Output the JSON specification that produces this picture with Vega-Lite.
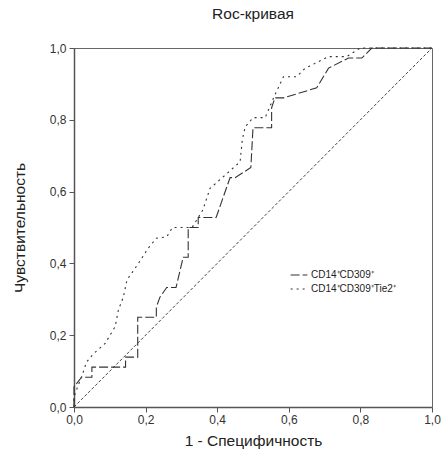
{
  "$schema": "https://vega.github.io/schema/vega-lite/v6.json",
  "width": 358,
  "height": 359,
  "autosize": "none",
  "padding": {"left": 74, "top": 48, "right": 9, "bottom": 43},
  "title": {"text": "Roc-кривая", "fontSize": 15.5, "fontWeight": "normal", "color": "#222", "font": "Liberation Sans", "offset": 20},
  "config": {
    "font": "Liberation Sans",
    "view": {"stroke": "#666", "strokeWidth": 1},
    "axis": {"grid": false, "domainColor": "#555", "domainWidth": 1.5, "tickColor": "#555", "tickSize": 5, "labelFontSize": 12, "labelColor": "#333", "titleFontSize": 15.5, "titleFontWeight": "normal", "titleColor": "#222"}
  },
  "datasets": {
    "roc": [
      {"s": "CD14⁺CD309⁺", "o": 0, "x": 0, "y": 0},
      {"s": "CD14⁺CD309⁺", "o": 1, "x": 0, "y": 0.056},
      {"s": "CD14⁺CD309⁺", "o": 2, "x": 0.021, "y": 0.083},
      {"s": "CD14⁺CD309⁺", "o": 3, "x": 0.05, "y": 0.083},
      {"s": "CD14⁺CD309⁺", "o": 4, "x": 0.05, "y": 0.111},
      {"s": "CD14⁺CD309⁺", "o": 5, "x": 0.144, "y": 0.111},
      {"s": "CD14⁺CD309⁺", "o": 6, "x": 0.144, "y": 0.139},
      {"s": "CD14⁺CD309⁺", "o": 7, "x": 0.178, "y": 0.139},
      {"s": "CD14⁺CD309⁺", "o": 8, "x": 0.178, "y": 0.25},
      {"s": "CD14⁺CD309⁺", "o": 9, "x": 0.23, "y": 0.25},
      {"s": "CD14⁺CD309⁺", "o": 10, "x": 0.23, "y": 0.278},
      {"s": "CD14⁺CD309⁺", "o": 11, "x": 0.24, "y": 0.306},
      {"s": "CD14⁺CD309⁺", "o": 12, "x": 0.259, "y": 0.333},
      {"s": "CD14⁺CD309⁺", "o": 13, "x": 0.285, "y": 0.333},
      {"s": "CD14⁺CD309⁺", "o": 14, "x": 0.305, "y": 0.417},
      {"s": "CD14⁺CD309⁺", "o": 15, "x": 0.319, "y": 0.417},
      {"s": "CD14⁺CD309⁺", "o": 16, "x": 0.319, "y": 0.5},
      {"s": "CD14⁺CD309⁺", "o": 17, "x": 0.347, "y": 0.5},
      {"s": "CD14⁺CD309⁺", "o": 18, "x": 0.347, "y": 0.528},
      {"s": "CD14⁺CD309⁺", "o": 19, "x": 0.397, "y": 0.528},
      {"s": "CD14⁺CD309⁺", "o": 20, "x": 0.436, "y": 0.639},
      {"s": "CD14⁺CD309⁺", "o": 21, "x": 0.45, "y": 0.639},
      {"s": "CD14⁺CD309⁺", "o": 22, "x": 0.494, "y": 0.667},
      {"s": "CD14⁺CD309⁺", "o": 23, "x": 0.5, "y": 0.778},
      {"s": "CD14⁺CD309⁺", "o": 24, "x": 0.552, "y": 0.778},
      {"s": "CD14⁺CD309⁺", "o": 25, "x": 0.552, "y": 0.833},
      {"s": "CD14⁺CD309⁺", "o": 26, "x": 0.561, "y": 0.861},
      {"s": "CD14⁺CD309⁺", "o": 27, "x": 0.585, "y": 0.861},
      {"s": "CD14⁺CD309⁺", "o": 28, "x": 0.678, "y": 0.889},
      {"s": "CD14⁺CD309⁺", "o": 29, "x": 0.711, "y": 0.944},
      {"s": "CD14⁺CD309⁺", "o": 30, "x": 0.767, "y": 0.972},
      {"s": "CD14⁺CD309⁺", "o": 31, "x": 0.804, "y": 0.972},
      {"s": "CD14⁺CD309⁺", "o": 32, "x": 0.832, "y": 1},
      {"s": "CD14⁺CD309⁺", "o": 33, "x": 1, "y": 1},
      {"s": "CD14⁺CD309⁺Tie2⁺", "o": 0, "x": 0, "y": 0},
      {"s": "CD14⁺CD309⁺Tie2⁺", "o": 1, "x": 0, "y": 0.028},
      {"s": "CD14⁺CD309⁺Tie2⁺", "o": 2, "x": 0.01, "y": 0.056},
      {"s": "CD14⁺CD309⁺Tie2⁺", "o": 3, "x": 0.021, "y": 0.083},
      {"s": "CD14⁺CD309⁺Tie2⁺", "o": 4, "x": 0.035, "y": 0.125},
      {"s": "CD14⁺CD309⁺Tie2⁺", "o": 5, "x": 0.054, "y": 0.148},
      {"s": "CD14⁺CD309⁺Tie2⁺", "o": 6, "x": 0.087, "y": 0.177},
      {"s": "CD14⁺CD309⁺Tie2⁺", "o": 7, "x": 0.115, "y": 0.224},
      {"s": "CD14⁺CD309⁺Tie2⁺", "o": 8, "x": 0.124, "y": 0.27},
      {"s": "CD14⁺CD309⁺Tie2⁺", "o": 9, "x": 0.138, "y": 0.307},
      {"s": "CD14⁺CD309⁺Tie2⁺", "o": 10, "x": 0.148, "y": 0.354},
      {"s": "CD14⁺CD309⁺Tie2⁺", "o": 11, "x": 0.18, "y": 0.4},
      {"s": "CD14⁺CD309⁺Tie2⁺", "o": 12, "x": 0.207, "y": 0.442},
      {"s": "CD14⁺CD309⁺Tie2⁺", "o": 13, "x": 0.23, "y": 0.47},
      {"s": "CD14⁺CD309⁺Tie2⁺", "o": 14, "x": 0.259, "y": 0.474},
      {"s": "CD14⁺CD309⁺Tie2⁺", "o": 15, "x": 0.275, "y": 0.5},
      {"s": "CD14⁺CD309⁺Tie2⁺", "o": 16, "x": 0.33, "y": 0.5},
      {"s": "CD14⁺CD309⁺Tie2⁺", "o": 17, "x": 0.36, "y": 0.549},
      {"s": "CD14⁺CD309⁺Tie2⁺", "o": 18, "x": 0.38, "y": 0.609},
      {"s": "CD14⁺CD309⁺Tie2⁺", "o": 19, "x": 0.412, "y": 0.637},
      {"s": "CD14⁺CD309⁺Tie2⁺", "o": 20, "x": 0.464, "y": 0.683},
      {"s": "CD14⁺CD309⁺Tie2⁺", "o": 21, "x": 0.47, "y": 0.744},
      {"s": "CD14⁺CD309⁺Tie2⁺", "o": 22, "x": 0.478, "y": 0.78},
      {"s": "CD14⁺CD309⁺Tie2⁺", "o": 23, "x": 0.5, "y": 0.806},
      {"s": "CD14⁺CD309⁺Tie2⁺", "o": 24, "x": 0.534, "y": 0.806},
      {"s": "CD14⁺CD309⁺Tie2⁺", "o": 25, "x": 0.557, "y": 0.86},
      {"s": "CD14⁺CD309⁺Tie2⁺", "o": 26, "x": 0.585, "y": 0.92},
      {"s": "CD14⁺CD309⁺Tie2⁺", "o": 27, "x": 0.622, "y": 0.92},
      {"s": "CD14⁺CD309⁺Tie2⁺", "o": 28, "x": 0.645, "y": 0.943},
      {"s": "CD14⁺CD309⁺Tie2⁺", "o": 29, "x": 0.711, "y": 0.976},
      {"s": "CD14⁺CD309⁺Tie2⁺", "o": 30, "x": 0.762, "y": 0.976},
      {"s": "CD14⁺CD309⁺Tie2⁺", "o": 31, "x": 0.79, "y": 0.994},
      {"s": "CD14⁺CD309⁺Tie2⁺", "o": 32, "x": 0.8, "y": 1},
      {"s": "CD14⁺CD309⁺Tie2⁺", "o": 33, "x": 1, "y": 1}
    ],
    "diag": [
      {"x": 0, "y": 0},
      {"x": 1, "y": 1}
    ]
  },
  "layer": [
    {
      "data": {"name": "diag"},
      "mark": {"type": "line", "color": "#444", "strokeWidth": 1, "strokeDash": [3, 2]},
      "encoding": {
        "x": {"field": "x", "type": "quantitative", "scale": {"domain": [0, 1], "nice": false, "zero": false}, "axis": {"values": [0, 0.2, 0.4, 0.6, 0.8, 1], "labelExpr": "replace(format(datum.value, '.1f'), '.', ',')", "title": "1 - Специфичность", "titlePadding": 8, "labelPadding": 2, "labelFlush": false}},
        "y": {"field": "y", "type": "quantitative", "scale": {"domain": [0, 1], "nice": false, "zero": false}, "axis": {"values": [0, 0.2, 0.4, 0.6, 0.8, 1], "labelExpr": "replace(format(datum.value, '.1f'), '.', ',')", "title": "Чувствительность", "titlePadding": 22, "labelPadding": 3, "labelFlush": false}}
      }
    },
    {
      "data": {"name": "roc"},
      "mark": {"type": "line", "color": "#333", "strokeWidth": 1.1},
      "encoding": {
        "x": {"field": "x", "type": "quantitative"},
        "y": {"field": "y", "type": "quantitative"},
        "order": {"field": "o", "type": "quantitative"},
        "strokeDash": {
          "field": "s",
          "type": "nominal",
          "scale": {"domain": ["CD14⁺CD309⁺", "CD14⁺CD309⁺Tie2⁺"], "range": [[9, 3], [2, 4]]},
          "legend": {"title": null, "orient": "none", "legendX": 216, "legendY": 218, "symbolType": "stroke", "symbolSize": 280, "symbolStrokeWidth": 1.2, "symbolStrokeColor": "#333", "labelFontSize": 10, "labelColor": "#222", "rowPadding": 0, "labelOffset": 3}
        }
      }
    }
  ]
}
